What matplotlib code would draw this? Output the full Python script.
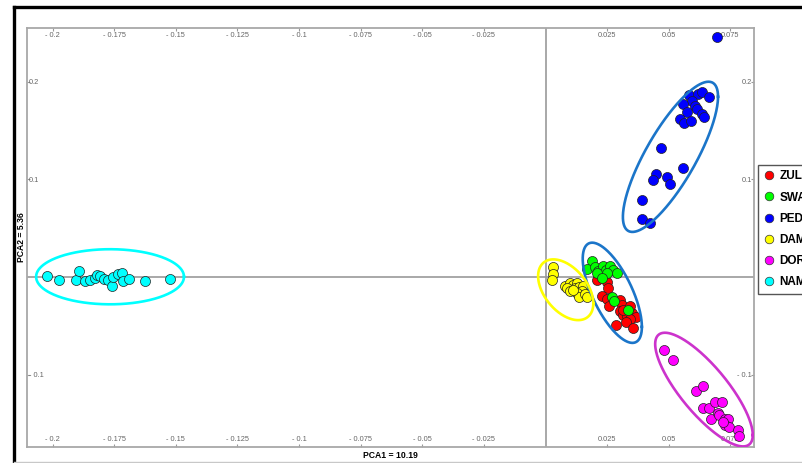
import numpy as np
import matplotlib
matplotlib.use("Agg")
import matplotlib.pyplot as plt
from matplotlib.lines import Line2D
from matplotlib.ticker import FixedLocator, FuncFormatter

plt.rcParams["font.family"] = ["Liberation Sans", "DejaVu Sans"]

# ---- PCA scores per breed ----
groups = ["ZULU", "SWAZI", "PEDI", "DAMARA", "DORPER", "NAMAQUA"]
point_colors = ["#FF0000", "#00FF00", "#0000FF", "#FFFF00", "#FF00FF", "#00FFFF"]

zul_pc1 = [0.0208, 0.0248, 0.0255, 0.0228, 0.0251, 0.0259, 0.0302, 0.0309, 0.0302, 0.0316,
           0.0332, 0.0350, 0.0366, 0.0343, 0.0327, 0.0286, 0.0356, 0.0316, 0.0343]
zul_pc2 = [-0.0031, -0.0048, -0.0110, -0.0195, -0.0229, -0.0297, -0.0236, -0.0290, -0.0346, -0.0390,
           -0.0397, -0.0366, -0.0407, -0.0434, -0.0458, -0.0489, -0.0523, -0.0338, -0.0297]

swa_pc1 = [0.0188, 0.0167, 0.0201, 0.0214, 0.0235, 0.0246, 0.0262, 0.0273, 0.0289, 0.0210,
           0.0251, 0.0228, 0.0269, 0.0278, 0.0336]
swa_pc2 = [0.0167, 0.0079, 0.0106, 0.0065, 0.0113, 0.0072, 0.0113, 0.0072, 0.0044, 0.0044,
           0.0038, -0.0013, -0.0208, -0.0243, -0.0338]

ped_pc1 = [0.0584, 0.0618, 0.0634, 0.0665, 0.0593, 0.0559, 0.0607, 0.0575, 0.0616, 0.0634,
           0.0643, 0.0546, 0.0562, 0.0589, 0.0468, 0.0559, 0.0447, 0.0437, 0.0492, 0.0505,
           0.0390, 0.0390, 0.0424, 0.0696]
ped_pc2 = [0.1859, 0.1874, 0.1894, 0.1839, 0.1798, 0.1771, 0.1747, 0.1695, 0.1720, 0.1669,
           0.1634, 0.1621, 0.1576, 0.1600, 0.1326, 0.1121, 0.1056, 0.0995, 0.1029, 0.0954,
           0.0790, 0.0595, 0.0551, 0.2462]

dam_pc1 = [0.0029, 0.0032, 0.0028, 0.0079, 0.0099, 0.0113, 0.0127, 0.0086, 0.0099, 0.0120,
           0.0137, 0.0153, 0.0147, 0.0127, 0.0137, 0.0160, 0.0167, 0.0113]
dam_pc2 = [0.0099, 0.0031, -0.0031, -0.0092, -0.0058, -0.0082, -0.0065, -0.0116, -0.0141, -0.0116,
           -0.0099, -0.0089, -0.0141, -0.0161, -0.0202, -0.0174, -0.0208, -0.0133]

dor_pc1 = [0.0481, 0.0519, 0.0611, 0.0640, 0.0640, 0.0665, 0.0688, 0.0715, 0.0670, 0.0701,
           0.0705, 0.0728, 0.0742, 0.0728, 0.0746, 0.0722, 0.0782, 0.0787]
dor_pc2 = [-0.0749, -0.0851, -0.1166, -0.1118, -0.1336, -0.1336, -0.1279, -0.1279, -0.1449, -0.1392,
           -0.1415, -0.1449, -0.1449, -0.1518, -0.1535, -0.1484, -0.1562, -0.1631]

nam_pc1 = [-0.2024, -0.1973, -0.1905, -0.1893, -0.1869, -0.1849, -0.1828, -0.1820, -0.1808, -0.1791,
           -0.1774, -0.1761, -0.1754, -0.1734, -0.1720, -0.1716, -0.1690, -0.1625, -0.1524]
nam_pc2 = [0.0013, -0.0031, -0.0031, 0.0062, -0.0038, -0.0031, -0.0013, 0.0017, 0.0010, -0.0020,
           -0.0031, -0.0092, 0.0003, 0.0031, 0.0044, -0.0038, -0.0021, -0.0038, -0.0024]

pc1 = [zul_pc1, swa_pc1, ped_pc1, dam_pc1, dor_pc1, nam_pc1]
pc2 = [zul_pc2, swa_pc2, ped_pc2, dam_pc2, dor_pc2, nam_pc2]

# ---- cluster ellipses: centre, half-extents and correlation ----
ell_cx = [0.0507, 0.0271, 0.0082, 0.0643, -0.1767]
ell_cy = [0.1231, -0.0161, -0.0130, -0.1152, 0.0003]
ell_sx = [0.0193, 0.0120, 0.0112, 0.0198, 0.0300]
ell_sy = [0.0769, 0.0513, 0.0311, 0.0582, 0.0282]
ell_rho = [0.80, -0.68, -0.45, -0.80, 0.0]
ell_colors = ["#1B75C9", "#1B75C9", "#FFFF00", "#CC33CC", "#00FFFF"]

# ---- axis ticks ----
x_ticks = [-0.2, -0.175, -0.15, -0.125, -0.1, -0.075, -0.05, -0.025, 0.025, 0.05, 0.075]
y_ticks = [-0.1, 0.1, 0.2]
pc1_label = "PCA1 = 10.19"
pc2_label = "PCA2 = 5.36"

W, H = 802, 463
fig = plt.figure(figsize=(W / 100, H / 100), dpi=100)
ax = fig.add_axes([27 / W, 1 - 447 / H, (754 - 27) / W, (447 - 28) / H])
ax.set_xlim(-0.2104, 0.0846)
ax.set_ylim(-0.174, 0.255)

ax.axhline(0, color="#9a9a9a", lw=1.2, zorder=1)
ax.axvline(0, color="#9a9a9a", lw=1.2, zorder=1)

for xs, ys, c in zip(pc1, pc2, point_colors):
    ax.scatter(xs, ys, s=52, c=c, edgecolors="#222222", linewidths=0.5, zorder=3)

t = np.linspace(0, 2 * np.pi, 300)
for cx, cy, sx, sy, rho, c in zip(ell_cx, ell_cy, ell_sx, ell_sy, ell_rho, ell_colors):
    phi = np.arccos(rho)
    ax.plot(cx + sx * np.cos(t), cy + sy * np.cos(t - phi), color=c, lw=1.9, zorder=4)

for sp in ax.spines.values():
    sp.set_color("#a8a8a8")
    sp.set_linewidth(1.3)

fmt = FuncFormatter(lambda v, p: f"- {abs(v):g}" if v < 0 else f"{v:g}")
ax.xaxis.set_major_locator(FixedLocator(x_ticks))
ax.yaxis.set_major_locator(FixedLocator(y_ticks))
ax.xaxis.set_major_formatter(fmt)
ax.yaxis.set_major_formatter(fmt)
ax.tick_params(axis="both", direction="in", length=2.5, width=0.8, color="#999999",
               labelsize=5.3, labelcolor="#666666")
ax.tick_params(axis="x", top=True, bottom=True, labeltop=True, labelbottom=True, pad=-7.8)
ax.tick_params(axis="y", left=True, right=True, labelleft=True, labelright=True, pad=-1.5)
for tk in ax.yaxis.get_major_ticks(len(y_ticks)):
    tk.label1.set_horizontalalignment("left")
    tk.label2.set_horizontalalignment("right")

fig.text(390.5 / W, 1 - 455 / H, pc1_label, ha="center", va="center",
         fontsize=6.2, fontweight="bold")
fig.text(21 / W, 1 - 237.5 / H, pc2_label, ha="center", va="center", rotation=90,
         fontsize=6.2, fontweight="bold")

handles = [Line2D([], [], ls="", marker="o", markersize=6.2, markerfacecolor=c,
                  markeredgecolor="#333333", markeredgewidth=0.5) for c in point_colors]
leg = ax.legend(handles, groups, loc="upper left", bbox_to_anchor=(757.5 / W, 1 - 165 / H),
                bbox_transform=fig.transFigure, borderaxespad=0, borderpad=0.45,
                handlelength=1.0, handletextpad=0.4, labelspacing=0.78, fancybox=False,
                framealpha=1, edgecolor="#555555",
                prop={"family": "Liberation Sans", "weight": "bold", "size": 8.5})
leg.get_frame().set_linewidth(1.0)

# outer frame of the figure
fig.add_artist(Line2D([14 / W, 14 / W], [0, 1 - 7 / H], color="black", lw=2.4,
                      transform=fig.transFigure))
fig.add_artist(Line2D([14 / W, 1], [1 - 7 / H, 1 - 7 / H], color="black", lw=2.4,
                      transform=fig.transFigure))
fig.add_artist(Line2D([14 / W, 1], [1 - 461.5 / H, 1 - 461.5 / H], color="#c8c8c8", lw=1.0,
                      transform=fig.transFigure))

fig.savefig("out.png", dpi=100)
